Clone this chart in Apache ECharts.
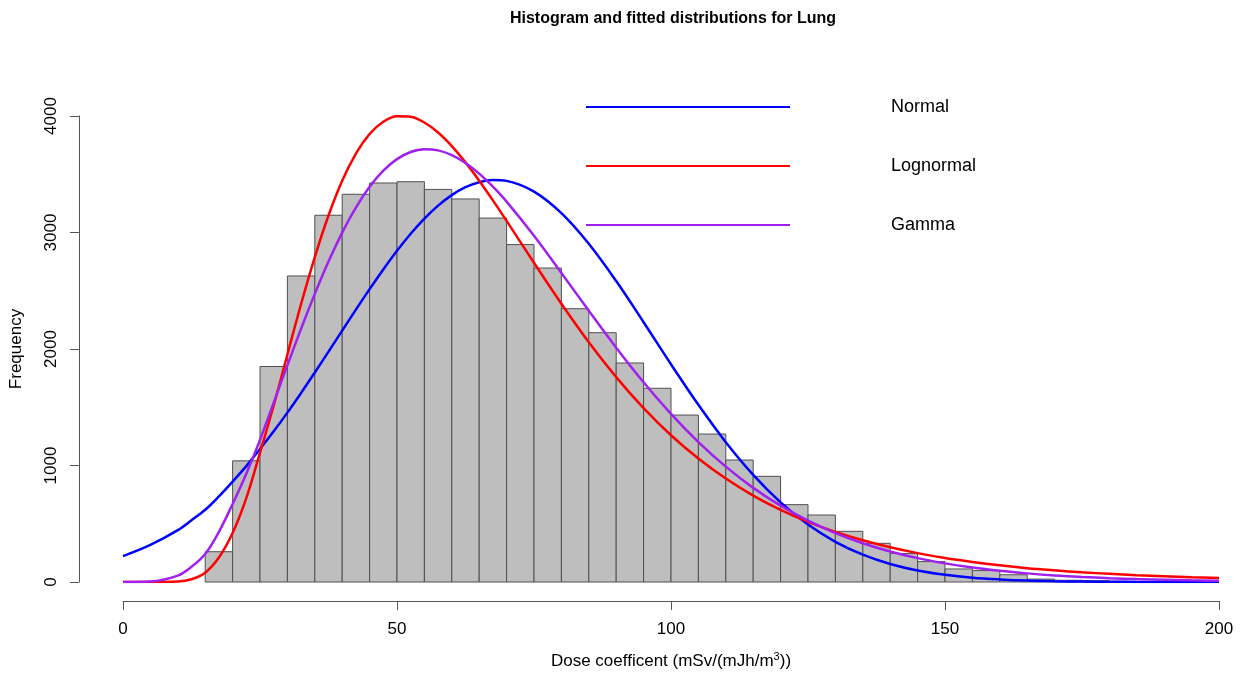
<!DOCTYPE html>
<html>
<head>
<meta charset="utf-8">
<title>Histogram and fitted distributions for Lung</title>
<script src="https://cdn.jsdelivr.net/npm/echarts@6/dist/echarts.min.js"></script>
<style>
  html, body { margin: 0; padding: 0; background: #ffffff; }
  #chart { width: 1248px; height: 675px; }
</style>
</head>
<body>
<div id="chart"></div>
<script>
// Histogram bins (edges, width 5) and their frequencies
const binEdges = [15, 20, 25, 30, 35, 40, 45, 50, 55, 60, 65, 70, 75, 80, 85, 90, 95, 100,
  105, 110, 115, 120, 125, 130, 135, 140, 145, 150, 155, 160, 165, 170, 175, 180, 185, 190, 195, 200];
const binCounts = [260, 1040, 1850, 2627, 3148, 3328, 3425, 3436, 3370, 3288, 3124, 2896, 2695,
  2346, 2140, 1880, 1663, 1433, 1270, 1047, 907, 664, 575, 435, 332, 245, 175, 112, 98, 62,
  25, 15, 12, 6, 4, 3, 2];

// Fitted density curves, scaled to frequency, sampled along the dose axis
// (denser sampling where the curves rise steeply and peak)
const curveX = [0, 5, 10, 12.5, 15, 17.5, 20, 22.5, 25, 27.5, 30, 32.5, 35, 37.5, 40, 42.5, 45,
  47.5, 50, 52.5, 55, 57.5, 60, 62.5, 65, 67.5, 70, 75, 80, 85, 90, 95, 100, 105, 110, 115, 120,
  125, 130, 135, 140, 145, 150, 155, 160, 165, 170, 175, 180, 185, 190, 195, 200];
const normalFit = [222, 318, 445, 530, 620, 735, 862, 995, 1141, 1293, 1454, 1623, 1798, 1977,
  2158, 2338, 2514, 2683, 2843, 2989, 3119, 3231, 3321, 3389, 3432, 3451, 3443, 3351, 3166, 2903,
  2583, 2230, 1869, 1521, 1200, 920, 684, 493, 345, 235, 155, 99, 62, 37, 22, 12, 7, 4, 2, 1,
  0.5, 0.2, 0.1];
const lognormalFit = [0, 0, 4, 24, 80, 210, 420, 720, 1110, 1515, 1953, 2386, 2789, 3146, 3444,
  3677, 3846, 3951, 3998, 3994, 3944, 3858, 3742, 3602, 3445, 3276, 3100, 2740, 2388, 2058, 1759,
  1493, 1260, 1060, 888, 742, 620, 516, 430, 358, 298, 248, 206, 172, 143, 119, 100, 83, 70, 58,
  49, 41, 34];
const gammaFit = [0, 4, 55, 130, 240, 430, 670, 930, 1220, 1540, 1861, 2174, 2473, 2751, 2999,
  3214, 3392, 3531, 3630, 3691, 3715, 3705, 3665, 3597, 3505, 3393, 3265, 2972, 2653, 2328, 2011,
  1714, 1443, 1201, 990, 808, 655, 526, 420, 333, 262, 205, 160, 124, 96, 74, 56, 43, 33, 25, 19,
  14, 10.5];

// Axis ticks
const xTicks = [0, 50, 100, 150, 200];
const yTicks = [0, 1000, 2000, 3000, 4000];

const FONT = '"Liberation Sans", Arial, Helvetica, sans-serif';

const histData = binCounts.map((c, i) => [binEdges[i], binEdges[i + 1], c]);
const pairs = (ys) => curveX.map((x, i) => [x, ys[i]]);

const chart = echarts.init(document.getElementById('chart'), null, { renderer: 'canvas' });

const axisLineStyle = { color: '#555555', width: 1 };

function fitLine(name, values, color, z) {
  return {
    name: name,
    type: 'line',
    data: pairs(values),
    smooth: 0.35,
    showSymbol: false,
    symbol: 'none',
    lineStyle: { color: color, width: 2.5 },
    itemStyle: { color: color },
    z: z
  };
}

chart.setOption({
  animation: false,
  backgroundColor: '#ffffff',
  textStyle: { fontFamily: FONT },
  title: {
    text: 'Histogram and fitted distributions for Lung',
    left: 668,
    top: 6,
    textAlign: 'center',
    textStyle: { fontFamily: FONT, fontSize: 16, fontWeight: 'bold', color: '#000000' }
  },
  legend: {
    orient: 'vertical',
    left: 586,
    top: 98,
    padding: 0,
    itemWidth: 204,
    itemHeight: 2,
    itemGap: 41,
    icon: 'rect',
    data: ['Normal', 'Lognormal', 'Gamma'],
    textStyle: { fontFamily: FONT, fontSize: 18, lineHeight: 18, color: '#000000', padding: [0, 0, 0, 96] }
  },
  grid: { left: 121, right: 29, top: 116, bottom: 93, containLabel: false },
  xAxis: {
    type: 'value',
    min: xTicks[0],
    max: xTicks[xTicks.length - 1],
    interval: 50,
    offset: 19,
    splitLine: { show: false },
    axisLine: { show: true, onZero: false, lineStyle: axisLineStyle },
    axisTick: { show: true, length: 9, lineStyle: axisLineStyle },
    axisLabel: { fontFamily: FONT, fontSize: 17, color: '#000000', margin: 20, formatter: (v) => String(v) },
    name: 'Dose coefficent (mSv/(mJh/m{sup|3}))',
    nameLocation: 'middle',
    nameGap: 50,
    nameTextStyle: {
      fontFamily: FONT, fontSize: 17, color: '#000000',
      rich: { sup: { fontFamily: FONT, fontSize: 11, verticalAlign: 'top', padding: [0, 0, 10, 0], color: '#000000' } }
    }
  },
  yAxis: {
    type: 'value',
    min: yTicks[0],
    max: yTicks[yTicks.length - 1],
    interval: 1000,
    offset: 44,
    splitLine: { show: false },
    axisLine: { show: true, onZero: false, lineStyle: axisLineStyle },
    axisTick: { show: true, length: 9, lineStyle: axisLineStyle },
    axisLabel: { fontFamily: FONT, fontSize: 17, color: '#000000', rotate: 90, margin: 19, formatter: (v) => String(v) },
    name: 'Frequency',
    nameLocation: 'middle',
    nameRotate: 90,
    nameGap: 54,
    nameTextStyle: { fontFamily: FONT, fontSize: 17, color: '#000000' }
  },
  series: [
    {
      name: 'Histogram',
      type: 'custom',
      data: histData,
      encode: { x: [0, 1], y: 2 },
      renderItem: function (params, api) {
        const top = api.coord([api.value(0), api.value(2)]);
        const bottom = api.coord([api.value(1), 0]);
        return {
          type: 'rect',
          shape: { x: top[0], y: top[1], width: bottom[0] - top[0], height: bottom[1] - top[1] },
          style: { fill: '#BEBEBE', stroke: '#505050', lineWidth: 1 }
        };
      },
      z: 1
    },
    fitLine('Normal', normalFit, '#0000FF', 3),
    fitLine('Lognormal', lognormalFit, '#FF0000', 4),
    fitLine('Gamma', gammaFit, '#A020F0', 5)
  ]
});
</script>
</body>
</html>
